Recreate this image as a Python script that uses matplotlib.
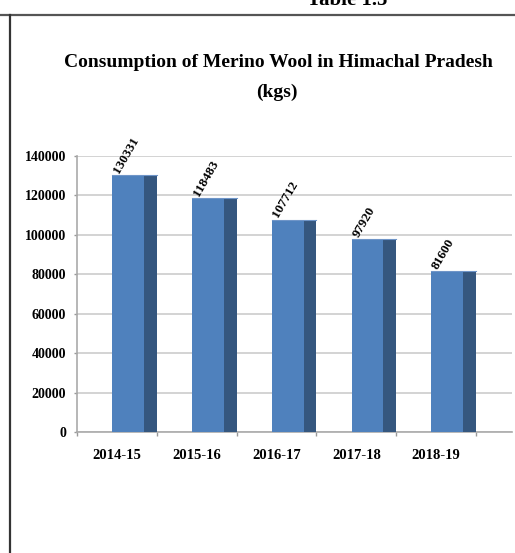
import matplotlib
matplotlib.use("Agg")
import matplotlib.pyplot as plt
from matplotlib.patches import Rectangle
from matplotlib.lines import Line2D

categories = ["2014-15", "2015-16", "2016-17", "2017-18", "2018-19"]
values = [130331, 118483, 107712, 97920, 81600]
value_labels = ["130331", "118483", "107712", "97920", "81600"]
yticks = [0, 20000, 40000, 60000, 80000, 100000, 120000, 140000]

W, H = 515, 553
fig = plt.figure(figsize=(W / 100, H / 100), dpi=100)
SERIF = ["Liberation Serif", "DejaVu Serif"]

def fx(x):
    return x / W

def fy(y):
    return 1 - y / H

# page border lines
fig.add_artist(Line2D([0, 1], [fy(15), fy(15)], transform=fig.transFigure, color="#555555", lw=1.6))
fig.add_artist(Line2D([fx(10), fx(10)], [fy(15), 0], transform=fig.transFigure, color="#333333", lw=1.6))

fig.text(fx(347), fy(5), "Table 1.5", ha="center", va="baseline", fontsize=15,
         fontweight="bold", family=SERIF)

fig.text(fx(278), fy(67), "Consumption of Merino Wool in Himachal Pradesh", ha="center",
         va="baseline", fontsize=14, fontweight="bold", family=SERIF)
fig.text(fx(277), fy(97), "(kgs)", ha="center", va="baseline", fontsize=14,
         fontweight="bold", family=SERIF)

ax = fig.add_axes([fx(77), fy(432), fx(512) - fx(77), fy(156) - fy(432)])
ax.set_xlim(-0.5, 4.95)
ax.set_ylim(0, 140000)

front_c = "#4f81bd"
side_c = "#35577f"
for i, v in enumerate(values):
    ax.add_patch(Rectangle((i - 0.06, 0), 0.40, v, facecolor=front_c, edgecolor="none", zorder=3))
    ax.add_patch(Rectangle((i + 0.34, 0), 0.16, v, facecolor=side_c, edgecolor="none", zorder=3))
    ax.add_line(Line2D([i - 0.06, i + 0.50], [v, v], color="#6f95c8", lw=0.8, zorder=4))
    ax.text(i - 0.01, v + 1500, value_labels[i], rotation=60, rotation_mode="anchor",
            ha="left", va="center", fontsize=9.5, fontweight="bold", family=SERIF, zorder=5)

ax.set_yticks(yticks)
ax.set_yticklabels([str(t) for t in yticks], fontsize=10, fontweight="bold", family=SERIF)
ax.yaxis.grid(True, color="#cccccc", lw=1.2, zorder=0)
ax.set_axisbelow(True)

ax.set_xticks([i - 0.5 for i in range(6)])
ax.set_xticklabels([])
ax.set_xticks(range(5), minor=True)
ax.set_xticklabels(categories, minor=True, fontsize=10.5, fontweight="bold", family=SERIF)
ax.tick_params(axis="x", which="minor", length=0, pad=12)
ax.tick_params(axis="x", which="major", length=3, color="#999999", width=1)
ax.tick_params(axis="y", length=2.2, color="#999999", width=1, pad=5.8)

for s in ["top", "right"]:
    ax.spines[s].set_visible(False)
ax.spines["left"].set_color("#aaaaaa")
ax.spines["bottom"].set_color("#aaaaaa")
ax.spines["left"].set_linewidth(1.2)
ax.spines["bottom"].set_linewidth(1.2)

fig.savefig("out.png", dpi=100)
